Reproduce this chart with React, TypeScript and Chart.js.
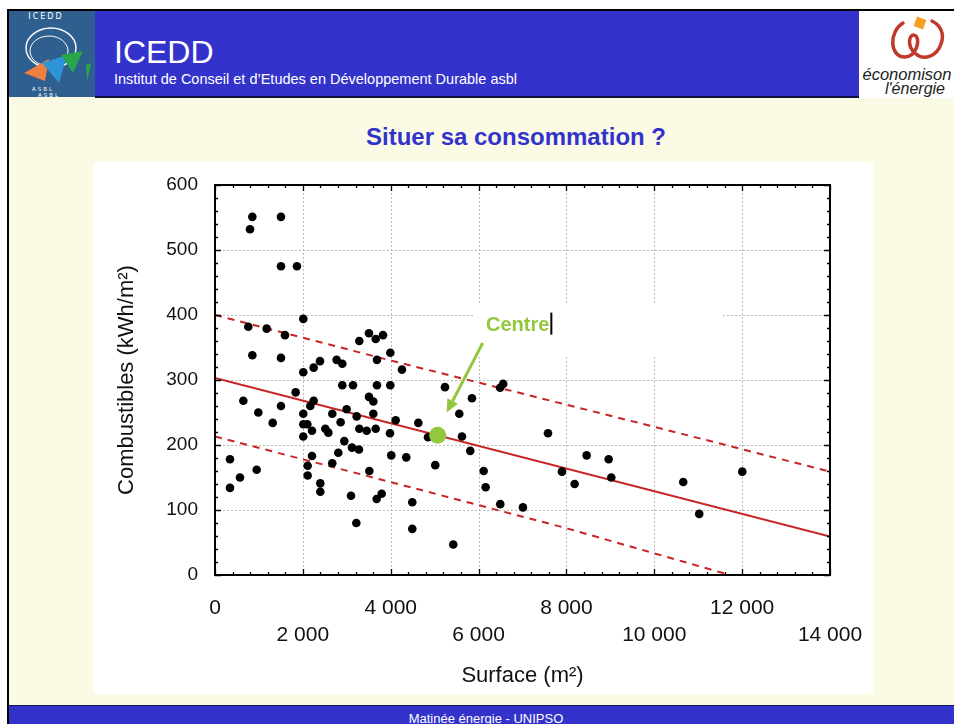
import React, { useEffect, useRef } from "react";
import { Chart, registerables } from "chart.js";

Chart.register(...registerables);

// ---- Data ----
const surfaceM2 = [
  850, 797, 1502, 1502, 1866, 2010, 758, 1176, 1593, 850,
  1502, 2010, 2246, 2390, 2769, 2898, 3285, 3505, 3658, 3824,
  3991, 3687, 4256, 6490, 6560, 5235, 2898, 3141, 3687, 3991,
  1836, 645, 986, 1502, 1313, 2246, 2170, 2010, 2010, 2101,
  2010, 2208, 2511, 2580, 2670, 2860, 2997, 2943, 3225, 3285,
  3453, 3505, 3604, 3604, 3658, 3983, 4113, 3118, 3277, 2807,
  2208, 2670, 2109, 2109, 2397, 2397, 341, 341, 569, 949,
  3513, 3096, 3217, 3680, 3794, 4013, 4354, 4628, 4491, 4491,
  4848, 5014, 5424, 5561, 5622, 5811, 5849, 6116, 6161, 6494,
  7010, 7580, 7898, 8187, 8460, 8961, 9021, 10659, 11023, 12003,
];
const combustibles = [
  551, 532, 551, 475, 475, 394, 382, 379, 369, 338,
  334, 312, 319, 329, 331, 325, 360, 372, 363, 369,
  342, 331, 316, 288, 294, 289, 292, 292, 292, 292,
  281, 268, 250, 260, 234, 268, 260, 248, 232, 232,
  213, 222, 225, 219, 248, 235, 255, 206, 244, 225,
  222, 274, 267, 248, 225, 218, 238, 196, 193, 188,
  183, 172, 168, 153, 141, 128, 178, 134, 150, 162,
  160, 122, 80, 117, 125, 184, 181, 234, 112, 71,
  212, 169, 47, 248, 213, 191, 272, 160, 135, 109,
  104, 218, 159, 140, 184, 178, 150, 143, 94, 159,
];
const centreX = [5069];
const centreY = [215];
const regressionX = [0, 14000];
const regressionY = [303, 59];
const upperBandX = [0, 4000, 10000, 14000];
const upperBandY = [400, 330, 228, 159];
const lowerBandX = [0, 4000, 8000, 11720];
const lowerBandY = [213, 143, 72, 0];

const xTickValues = [0, 2000, 4000, 6000, 8000, 10000, 12000, 14000];
const xTickLabels = ["0", "2 000", "4 000", "6 000", "8 000", "10 000", "12 000", "14 000"];
const yTickValues = [0, 100, 200, 300, 400, 500, 600];
const yTickLabels = ["0", "100", "200", "300", "400", "500", "600"];
const xMinorStep = 400;
const yMinorStep = 20;

// annotation (data coordinates)
const centreLabel = "Centre";
const centreLabelPos = [6169, 376];
const arrowFrom = [6094, 357];
const arrowTo = [5274, 250];
const labelBox = [5873, 335, 11564, 417];

const FONT = "'Liberation Sans', Arial, sans-serif";
const GREEN = "#93c83e";
const RED = "#c82424";

const toXY = (xs: number[], ys: number[]) => xs.map((x, i) => ({ x, y: ys[i] }));

const framePlugin = {
  id: "frameAndNotes",
  beforeDatasetsDraw(chart: any) {
    const { ctx, chartArea: a, scales } = chart;
    const x = scales.x;
    const y = scales.y;
    ctx.save();
    ctx.strokeStyle = "#b8b8b8";
    ctx.lineWidth = 1;
    ctx.setLineDash([2, 2]);
    xTickValues.slice(1, -1).forEach((v) => {
      const px = Math.round(x.getPixelForValue(v)) + 0.5;
      ctx.beginPath();
      ctx.moveTo(px, a.top);
      ctx.lineTo(px, a.bottom);
      ctx.stroke();
    });
    yTickValues.slice(1, -1).forEach((v) => {
      const py = Math.round(y.getPixelForValue(v)) + 0.5;
      ctx.beginPath();
      ctx.moveTo(a.left, py);
      ctx.lineTo(a.right, py);
      ctx.stroke();
    });
    ctx.setLineDash([]);
    // white text box of the "Centre" note
    const bx0 = x.getPixelForValue(labelBox[0]);
    const by0 = y.getPixelForValue(labelBox[3]);
    const bx1 = x.getPixelForValue(labelBox[2]);
    const by1 = y.getPixelForValue(labelBox[1]);
    ctx.fillStyle = "#ffffff";
    ctx.fillRect(bx0, by0, bx1 - bx0, by1 - by0);
    ctx.restore();
  },
  afterDatasetsDraw(chart: any) {
    const { ctx, chartArea: a, scales } = chart;
    const x = scales.x;
    const y = scales.y;
    ctx.save();
    // frame
    ctx.strokeStyle = "#000";
    ctx.lineWidth = 2;
    ctx.strokeRect(a.left, a.top, a.right - a.left, a.bottom - a.top);
    // inward ticks
    ctx.lineWidth = 1.3;
    for (let v = x.min; v <= x.max; v += xMinorStep) {
      const px = Math.round(x.getPixelForValue(v)) + 0.5;
      const len = v % 2000 === 0 ? 6 : 3;
      ctx.beginPath();
      ctx.moveTo(px, a.bottom);
      ctx.lineTo(px, a.bottom - len);
      ctx.moveTo(px, a.top);
      ctx.lineTo(px, a.top + len);
      ctx.stroke();
    }
    for (let v = y.min; v <= y.max; v += yMinorStep) {
      const py = Math.round(y.getPixelForValue(v)) + 0.5;
      const len = v % 100 === 0 ? 6 : 3;
      ctx.beginPath();
      ctx.moveTo(a.left, py);
      ctx.lineTo(a.left + len, py);
      ctx.moveTo(a.right, py);
      ctx.lineTo(a.right - len, py);
      ctx.stroke();
    }
    // arrow
    const sx = x.getPixelForValue(arrowFrom[0]);
    const sy = y.getPixelForValue(arrowFrom[1]);
    const tx = x.getPixelForValue(arrowTo[0]);
    const ty = y.getPixelForValue(arrowTo[1]);
    const ang = Math.atan2(ty - sy, tx - sx);
    const headLen = 13;
    const headW = 6;
    const bx = tx - headLen * Math.cos(ang);
    const by = ty - headLen * Math.sin(ang);
    ctx.strokeStyle = GREEN;
    ctx.fillStyle = GREEN;
    ctx.lineWidth = 3;
    ctx.beginPath();
    ctx.moveTo(sx, sy);
    ctx.lineTo(bx, by);
    ctx.stroke();
    ctx.beginPath();
    ctx.moveTo(tx, ty);
    ctx.lineTo(bx + headW * Math.sin(ang), by - headW * Math.cos(ang));
    ctx.lineTo(bx - headW * Math.sin(ang), by + headW * Math.cos(ang));
    ctx.closePath();
    ctx.fill();
    // label
    const lx = x.getPixelForValue(centreLabelPos[0]);
    const ly = y.getPixelForValue(centreLabelPos[1]);
    ctx.font = `bold 20px ${FONT}`;
    ctx.textBaseline = "alphabetic";
    ctx.textAlign = "left";
    ctx.fillText(centreLabel, lx, ly);
    const w = ctx.measureText(centreLabel).width;
    ctx.fillStyle = "#000";
    ctx.fillRect(lx + w + 1, ly - 18, 2, 22);
    ctx.restore();
  },
};

function ScatterChart() {
  const ref = useRef<HTMLCanvasElement | null>(null);
  useEffect(() => {
    if (!ref.current) return;
    const chart = new Chart(ref.current, {
      type: "scatter",
      data: {
        datasets: [
          {
            label: "Centre",
            data: toXY(centreX, centreY),
            pointRadius: 8.5,
            pointBackgroundColor: GREEN,
            pointBorderWidth: 0,
            showLine: false,
          },
          {
            label: "Bâtiments",
            data: toXY(surfaceM2, combustibles),
            pointRadius: 4.3,
            pointBackgroundColor: "#000",
            pointBorderWidth: 0,
            showLine: false,
          },
          {
            label: "Régression",
            data: toXY(regressionX, regressionY),
            showLine: true,
            borderColor: RED,
            borderWidth: 2,
            pointRadius: 0,
          },
          {
            label: "Limite haute",
            data: toXY(upperBandX, upperBandY),
            showLine: true,
            borderColor: RED,
            borderWidth: 2,
            borderDash: [7, 6],
            pointRadius: 0,
          },
          {
            label: "Limite basse",
            data: toXY(lowerBandX, lowerBandY),
            showLine: true,
            borderColor: RED,
            borderWidth: 2,
            borderDash: [7, 6],
            pointRadius: 0,
          },
        ],
      } as any,
      options: {
        responsive: false,
        animation: false,
        events: [],
        layout: { padding: { top: 23, right: 43, left: 0, bottom: 0 } },
        plugins: { legend: { display: false }, tooltip: { enabled: false } },
        scales: {
          x: {
            type: "linear",
            min: 0,
            max: 14000,
            afterFit: (s: any) => {
              s.height = 119;
              s.paddingLeft = 0;
              s.paddingRight = 0;
            },
            afterBuildTicks: (s: any) => {
              s.ticks = xTickValues.map((v) => ({ value: v }));
            },
            grid: { display: false },
            border: { display: false },
            ticks: {
              autoSkip: false,
              maxRotation: 0,
              padding: 11,
              color: "#111",
              font: { family: FONT, size: 21, lineHeight: 1.32 },
              callback: (_v: any, i: number) =>
                i % 2 === 0 ? [xTickLabels[i], ""] : ["", xTickLabels[i]],
            },
            title: {
              display: true,
              text: "Surface (m²)",
              color: "#111",
              font: { family: FONT, size: 22 },
              padding: { top: 0, bottom: 5 },
            },
          },
          y: {
            type: "linear",
            min: 0,
            max: 600,
            afterFit: (s: any) => {
              s.width = 122;
              s.paddingTop = 0;
              s.paddingBottom = 0;
            },
            afterBuildTicks: (s: any) => {
              s.ticks = yTickValues.map((v) => ({ value: v }));
            },
            grid: { display: false },
            border: { display: false },
            ticks: {
              padding: 9,
              color: "#111",
              font: { family: "'Liberation Sans Narrow', " + FONT, size: 19 },
              callback: (_v: any, i: number) => yTickLabels[i],
            },
            title: {
              display: true,
              text: "Combustibles (kWh/m²)",
              color: "#111",
              font: { family: FONT, size: 22 },
              padding: { top: 21, bottom: 0 },
            },
          },
        },
      } as any,
      plugins: [framePlugin as any],
    });
    return () => chart.destroy();
  }, []);
  return (
    <canvas
      ref={ref}
      width={780}
      height={532}
      style={{ position: "absolute", left: 0, top: 0, width: 780, height: 532 }}
    />
  );
}

function LeftLogo() {
  return (
    <svg width={86} height={86} style={{ position: "absolute", left: 9, top: 11 }}>
      <rect width={86} height={86} fill="#2f5f8e" />
      <text x={37} y={8} fontSize={8} fill="#fff" textAnchor="middle" letterSpacing={2} fontFamily="DejaVu Sans">
        ICEDD
      </text>
      <ellipse cx={42} cy={37} rx={25} ry={20} stroke="#fff" fill="none" strokeWidth={1.4} />
      <ellipse cx={40} cy={40} rx={19} ry={15} stroke="#fff" fill="none" strokeWidth={1} />
      <polygon points="15,62 40,48 36,70" fill="#f08040" />
      <polygon points="33,52 58,44 50,72" fill="#2f93d8" />
      <polygon points="52,44 74,40 64,62" fill="#2aa64a" />
      <polygon points="77,54 82,52 78,70" fill="#2aa64a" />
      <text x={34} y={80} fontSize={5.5} fill="#fff" textAnchor="middle" letterSpacing={2} fontFamily="DejaVu Sans">
        ASBL
      </text>
      <text x={40} y={86} fontSize={5.5} fill="#fff" textAnchor="middle" letterSpacing={2} fontFamily="DejaVu Sans">
        ASBL
      </text>
    </svg>
  );
}

function RightLogo() {
  return (
    <svg width={95} height={87} style={{ position: "absolute", left: 859, top: 11 }}>
      <rect width={95} height={87} fill="#fff" />
      <path
        d="M44 12 C30 20 30 46 46 46 C57 46 61 30 57 25 C51 20 46 34 57 43 C65 50 78 45 82 33 C86 22 81 14 73 10"
        stroke="#c0392b"
        strokeWidth={3.5}
        fill="none"
        strokeLinecap="round"
      />
      <rect x={56} y={7} width={10} height={10} fill="#f5a023" transform="rotate(20 61 12)" />
      <text x={48} y={69} fontSize={16.5} fontStyle="italic" fill="#222" textAnchor="middle" fontFamily={FONT}>
        économison
      </text>
      <text x={56} y={83} fontSize={16} fontStyle="italic" fill="#222" textAnchor="middle" fontFamily={FONT}>
        l'énergie
      </text>
    </svg>
  );
}

export default function App() {
  return (
    <div
      style={{
        position: "absolute",
        left: 0,
        top: 0,
        width: 954,
        height: 724,
        overflow: "hidden",
        background: "#ffffff",
        fontFamily: FONT,
      }}
    >
      {/* slide background */}
      <div style={{ position: "absolute", left: 8, top: 9, width: 946, height: 715, background: "#fbfbe5" }} />
      {/* borders */}
      <div style={{ position: "absolute", left: 7, top: 9, width: 947, height: 2, background: "#000" }} />
      <div style={{ position: "absolute", left: 7, top: 9, width: 2, height: 715, background: "#000" }} />
      {/* header */}
      <div style={{ position: "absolute", left: 95, top: 11, width: 764, height: 85, background: "#3333cc" }} />
      <div style={{ position: "absolute", left: 95, top: 96, width: 764, height: 1.5, background: "#101040" }} />
      <LeftLogo />
      <RightLogo />
      <div
        style={{
          position: "absolute",
          left: 114,
          top: 35.5,
          fontSize: 32,
          lineHeight: "32px",
          color: "#fff",
          whiteSpace: "nowrap",
        }}
      >
        ICEDD
      </div>
      <div
        style={{
          position: "absolute",
          left: 114,
          top: 72.2,
          fontSize: 14.5,
          lineHeight: "14.5px",
          color: "#fff",
          whiteSpace: "nowrap",
        }}
      >
        Institut de Conseil et d’Etudes en Développement Durable asbl
      </div>
      {/* slide title */}
      <div
        style={{
          position: "absolute",
          left: 216,
          width: 600,
          top: 124.7,
          textAlign: "center",
          fontSize: 24,
          lineHeight: "24px",
          fontWeight: "bold",
          color: "#3333cc",
          whiteSpace: "nowrap",
        }}
      >
        Situer sa consommation ?
      </div>
      {/* chart panel */}
      <div style={{ position: "absolute", left: 93, top: 162, width: 780, height: 532, background: "#fff" }}>
        <ScatterChart />
      </div>
      {/* footer */}
      <div style={{ position: "absolute", left: 9, top: 705, width: 945, height: 19, background: "#3333cc", borderTop: "1px solid #15155a" }} />
      <div
        style={{
          position: "absolute",
          left: 286,
          width: 400,
          top: 711.7,
          textAlign: "center",
          fontSize: 13,
          lineHeight: "13px",
          color: "#fff",
          whiteSpace: "nowrap",
        }}
      >
        Matinée énergie - UNIPSO
      </div>
    </div>
  );
}
